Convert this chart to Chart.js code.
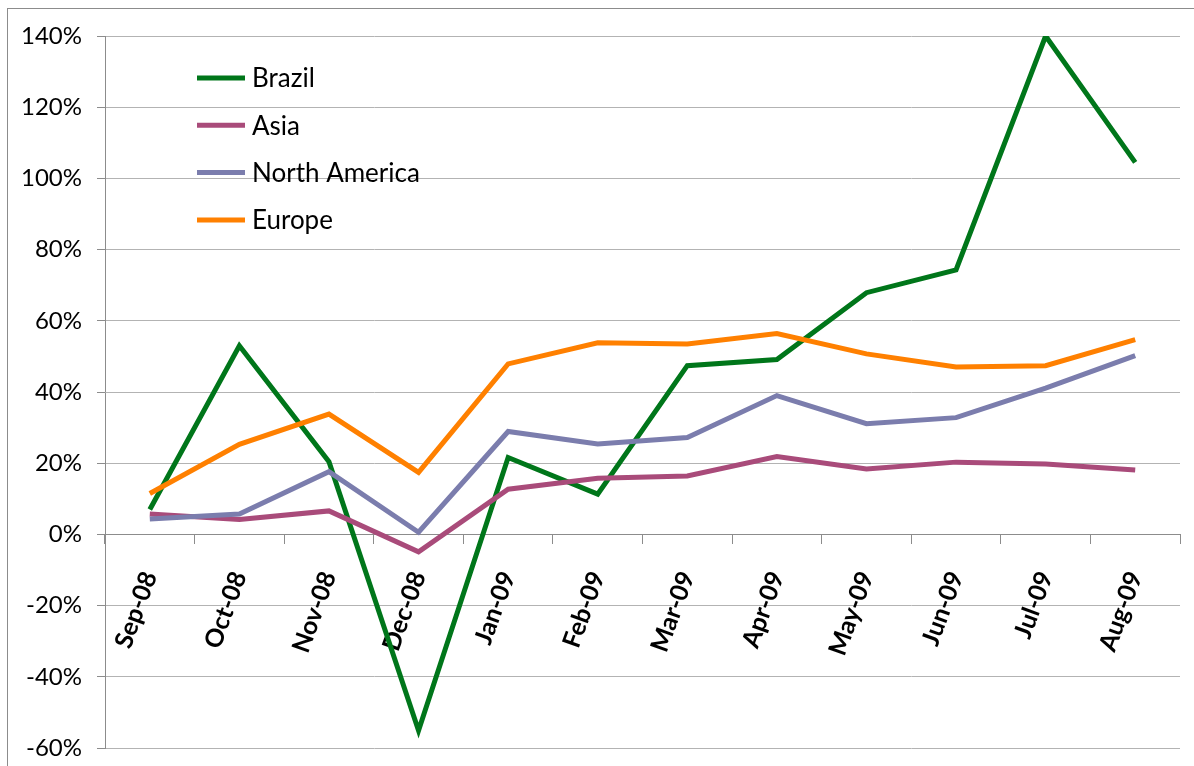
<!DOCTYPE html>
<html>
<head>
<meta charset="utf-8">
<script src="https://cdn.jsdelivr.net/npm/chart.js@4/dist/chart.umd.min.js"></script>
<style>
  html, body { margin: 0; padding: 0; background: #fff; overflow: hidden; }
  #wrap { width: 1194px; height: 766px; position: relative; }
</style>
</head>
<body>
<div id="wrap"><canvas id="c" width="1194" height="766"></canvas></div>
<script>
const categories = ['Sep-08','Oct-08','Nov-08','Dec-08','Jan-09','Feb-09','Mar-09','Apr-09','May-09','Jun-09','Jul-09','Aug-09'];
const brazil       = [7.0, 53.0, 20.4, -55.1, 21.6, 11.3, 47.4, 49.1, 67.9, 74.3, 140.0, 104.5];
const asia         = [5.7, 4.2, 6.6, -4.9, 12.7, 15.8, 16.4, 21.9, 18.4, 20.3, 19.8, 18.1];
const northAmerica = [4.3, 5.7, 17.6, 0.6, 28.9, 25.4, 27.2, 39.0, 31.1, 32.8, 41.1, 50.2];
const europe       = [11.5, 25.3, 33.8, 17.4, 47.9, 53.8, 53.5, 56.4, 50.7, 47.0, 47.4, 54.7];
const seriesNames  = ['Brazil', 'Asia', 'North America', 'Europe'];
const seriesColors = ['#00761a', '#a94b7a', '#7b7dad', '#ff8000'];
const yTicks       = [-60, -40, -20, 0, 20, 40, 60, 80, 100, 120, 140];

const FONT = 'Lato, "Liberation Sans", sans-serif';

const frame = {
  id: 'frame',
  beforeDraw(chart) {
    const ctx = chart.ctx;
    ctx.save();
    ctx.fillStyle = '#fff';
    ctx.fillRect(0, 0, chart.width, chart.height);
    ctx.strokeStyle = '#8c8c8c';
    ctx.lineWidth = 1;
    ctx.strokeRect(7.5, 8.5, 3000, 3000);
    ctx.restore();
  }
};

const insideLegend = {
  id: 'insideLegend',
  afterDatasetsDraw(chart) {
    const ctx = chart.ctx;
    ctx.save();
    ctx.font = '26px ' + FONT;
    ctx.textBaseline = 'middle';
    ctx.textAlign = 'left';
    chart.data.datasets.forEach((ds, i) => {
      const y = 78 + i * 47.3;
      ctx.strokeStyle = ds.borderColor;
      ctx.lineWidth = 5;
      ctx.beginPath();
      ctx.moveTo(197, y);
      ctx.lineTo(245, y);
      ctx.stroke();
      ctx.fillStyle = '#000';
      ctx.fillText(ds.label, 252, y + 1);
    });
    ctx.restore();
  }
};

const seriesData = [brazil, asia, northAmerica, europe];

new Chart(document.getElementById('c'), {
  type: 'line',
  data: {
    labels: categories,
    datasets: seriesData.map((d, i) => ({
      label: seriesNames[i],
      data: d,
      order: seriesData.length - i,
      borderColor: seriesColors[i],
      backgroundColor: seriesColors[i],
      borderWidth: 5,
      pointRadius: 0,
      tension: 0,
      fill: false
    }))
  },
  options: {
    responsive: false,
    animation: false,
    devicePixelRatio: 1,
    layout: { padding: { left: 0, right: 14, top: 36, bottom: 18 } },
    plugins: { legend: { display: false }, tooltip: { enabled: false } },
    scales: {
      x: {
        type: 'category',
        position: { y: 0 },
        offset: true,
        afterFit(scale) { scale.height = 0; scale.paddingLeft = 0; scale.paddingRight = 0; },
        grid: {
          display: true,
          offset: true,
          drawOnChartArea: false,
          drawTicks: true,
          tickLength: 9,
          tickColor: '#8c8c8c',
          tickWidth: 1
        },
        border: { display: true, color: '#8c8c8c', width: 1 },
        ticks: {
          autoSkip: false,
          maxRotation: 70,
          minRotation: 70,
          padding: 24,
          color: '#000',
          font: { family: FONT, size: 25, weight: 'bold' }
        }
      },
      y: {
        min: -60,
        max: 140,
        afterFit(scale) { scale.width = 105; scale.paddingTop = 0; scale.paddingBottom = 0; },
        afterBuildTicks(scale) { scale.ticks = yTicks.map(v => ({ value: v })); },
        grid: {
          color: '#b3b3b3',
          lineWidth: 1,
          tickLength: 8,
          tickColor: '#8c8c8c'
        },
        border: { display: true, color: '#8c8c8c', width: 1 },
        ticks: {
          padding: 15,
          color: '#000',
          font: { family: FONT, size: 24 },
          callback: v => v + '%'
        }
      }
    }
  },
  plugins: [frame, insideLegend]
});
</script>
</body>
</html>
